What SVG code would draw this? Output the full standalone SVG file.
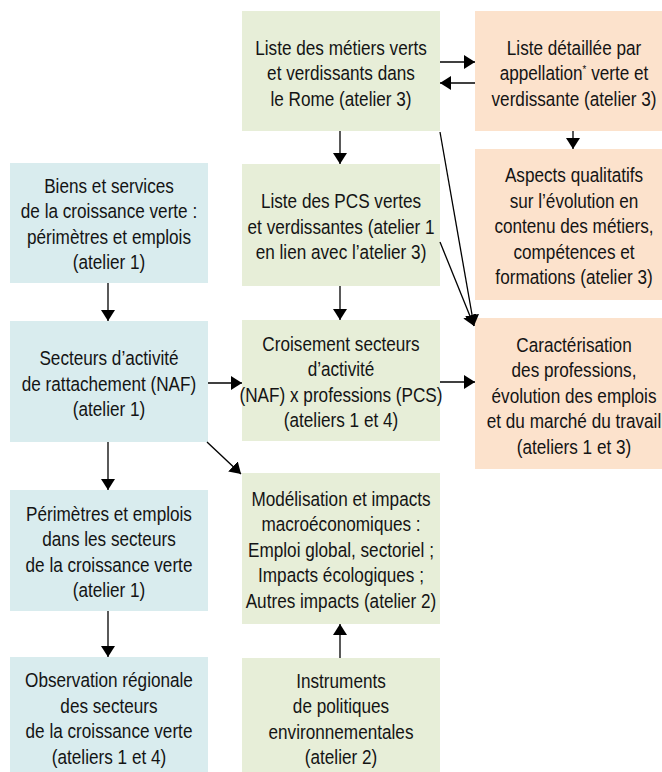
<svg xmlns="http://www.w3.org/2000/svg" width="662" height="772" viewBox="0 0 662 772">
<defs>
<style>
.g{fill:#e7eed8}
.b{fill:#d9ecee}
.o{fill:#fce2cc}
text{font-family:"Liberation Sans",Arial,sans-serif;font-size:19.5px;fill:#141414;text-anchor:middle}
.c line{stroke:#000;stroke-width:1.3;marker-end:url(#ah)}
</style>
<marker id="ah" viewBox="0 0 11 14" markerWidth="11" markerHeight="14" refX="11" refY="7" orient="auto" markerUnits="userSpaceOnUse">
<path d="M0,0 L11,7 L0,14 z" fill="#000"/>
</marker>
</defs>
<rect width="662" height="772" fill="#fff"/>

<g id="metiers">
<rect class="g" x="242" y="11" width="198" height="120"/>
<text transform="translate(341 0) scale(0.88 1)" y="55"><tspan x="0">Liste des métiers verts</tspan><tspan x="0" dy="25.5">et verdissants dans</tspan><tspan x="0" dy="25.5">le Rome (atelier 3)</tspan></text>
</g>
<g id="appellation">
<rect class="o" x="475" y="11" width="198" height="120"/>
<text transform="translate(574 0) scale(0.88 1)" y="55"><tspan x="0">Liste détaillée par</tspan><tspan x="0" dy="25.5">appellation<tspan font-size="11" dy="-7">*</tspan><tspan dy="7"> verte et</tspan></tspan><tspan x="0" dy="25.5">verdissante (atelier 3)</tspan></text>
</g>
<g id="aspects">
<rect class="o" x="475" y="149" width="198" height="151"/>
<text transform="translate(574 0) scale(0.88 1)" y="182.5"><tspan x="0">Aspects qualitatifs</tspan><tspan x="0" dy="25.5">sur l’évolution en</tspan><tspan x="0" dy="25.5">contenu des métiers,</tspan><tspan x="0" dy="25.5">compétences et</tspan><tspan x="0" dy="25.5">formations (atelier 3)</tspan></text>
</g>
<g id="pcs">
<rect class="g" x="242" y="164" width="198" height="122"/>
<text transform="translate(341 0) scale(0.88 1)" y="208.5"><tspan x="0">Liste des PCS vertes</tspan><tspan x="0" dy="25.5">et verdissantes (atelier 1</tspan><tspan x="0" dy="25.5">en lien avec l’atelier 3)</tspan></text>
</g>
<g id="biens">
<rect class="b" x="10" y="163" width="198" height="120"/>
<text transform="translate(109 0) scale(0.88 1)" y="193"><tspan x="0">Biens et services</tspan><tspan x="0" dy="25.5">de la croissance verte :</tspan><tspan x="0" dy="25.5">périmètres et emplois</tspan><tspan x="0" dy="25.5">(atelier 1)</tspan></text>
</g>
<g id="secteurs">
<rect class="b" x="10" y="321" width="198" height="121"/>
<text transform="translate(109 0) scale(0.88 1)" y="365.5"><tspan x="0">Secteurs d’activité</tspan><tspan x="0" dy="25.5">de rattachement (NAF)</tspan><tspan x="0" dy="25.5">(atelier 1)</tspan></text>
</g>
<g id="croisement">
<rect class="g" x="242" y="320" width="198" height="121"/>
<text transform="translate(341 0) scale(0.88 1)" y="351"><tspan x="0">Croisement secteurs</tspan><tspan x="0" dy="25.5">d’activité</tspan><tspan x="0" dy="25.5">(NAF) x professions (PCS)</tspan><tspan x="0" dy="25.5">(ateliers 1 et 4)</tspan></text>
</g>
<g id="caracterisation">
<rect class="o" x="475" y="318" width="198" height="151"/>
<text transform="translate(574 0) scale(0.88 1)" y="352"><tspan x="0">Caractérisation</tspan><tspan x="0" dy="25.5">des professions,</tspan><tspan x="0" dy="25.5">évolution des emplois</tspan><tspan x="0" dy="25.5">et du marché du travail</tspan><tspan x="0" dy="25.5">(ateliers 1 et 3)</tspan></text>
</g>
<g id="perimetres">
<rect class="b" x="10" y="490" width="198" height="121"/>
<text transform="translate(109 0) scale(0.88 1)" y="521"><tspan x="0">Périmètres et emplois</tspan><tspan x="0" dy="25.5">dans les secteurs</tspan><tspan x="0" dy="25.5">de la croissance verte</tspan><tspan x="0" dy="25.5">(atelier 1)</tspan></text>
</g>
<g id="modelisation">
<rect class="g" x="242" y="473" width="198" height="151"/>
<text transform="translate(341 0) scale(0.88 1)" y="506"><tspan x="0">Modélisation et impacts</tspan><tspan x="0" dy="25.5">macroéconomiques :</tspan><tspan x="0" dy="25.5">Emploi global, sectoriel ;</tspan><tspan x="0" dy="25.5">Impacts écologiques ;</tspan><tspan x="0" dy="25.5">Autres impacts (atelier 2)</tspan></text>
</g>
<g id="observation">
<rect class="b" x="10" y="657" width="198" height="120"/>
<text transform="translate(109 0) scale(0.88 1)" y="687.5"><tspan x="0">Observation régionale</tspan><tspan x="0" dy="25.5">des secteurs</tspan><tspan x="0" dy="25.5">de la croissance verte</tspan><tspan x="0" dy="25.5">(ateliers 1 et 4)</tspan></text>
</g>
<g id="instruments">
<rect class="g" x="242" y="658" width="198" height="120"/>
<text transform="translate(341 0) scale(0.88 1)" y="688"><tspan x="0">Instruments</tspan><tspan x="0" dy="25.5">de politiques</tspan><tspan x="0" dy="25.5">environnementales</tspan><tspan x="0" dy="25.5">(atelier 2)</tspan></text>
</g>

<g id="connectors" class="c">
<line x1="440" y1="62" x2="475" y2="62"/>
<line x1="475" y1="83" x2="440" y2="83"/>
<line x1="340" y1="131" x2="340" y2="164"/>
<line x1="573" y1="131" x2="573" y2="149"/>
<line x1="440" y1="132" x2="474" y2="326"/>
<line x1="440" y1="242" x2="474" y2="326"/>
<line x1="340" y1="286" x2="340" y2="320"/>
<line x1="108" y1="283" x2="108" y2="321"/>
<line x1="208" y1="383" x2="242" y2="383"/>
<line x1="440" y1="382" x2="475" y2="382"/>
<line x1="108" y1="442" x2="108" y2="490"/>
<line x1="207" y1="442" x2="241" y2="474"/>
<line x1="108" y1="611" x2="108" y2="657"/>
<line x1="340" y1="658" x2="340" y2="624"/>
</g>
</svg>
